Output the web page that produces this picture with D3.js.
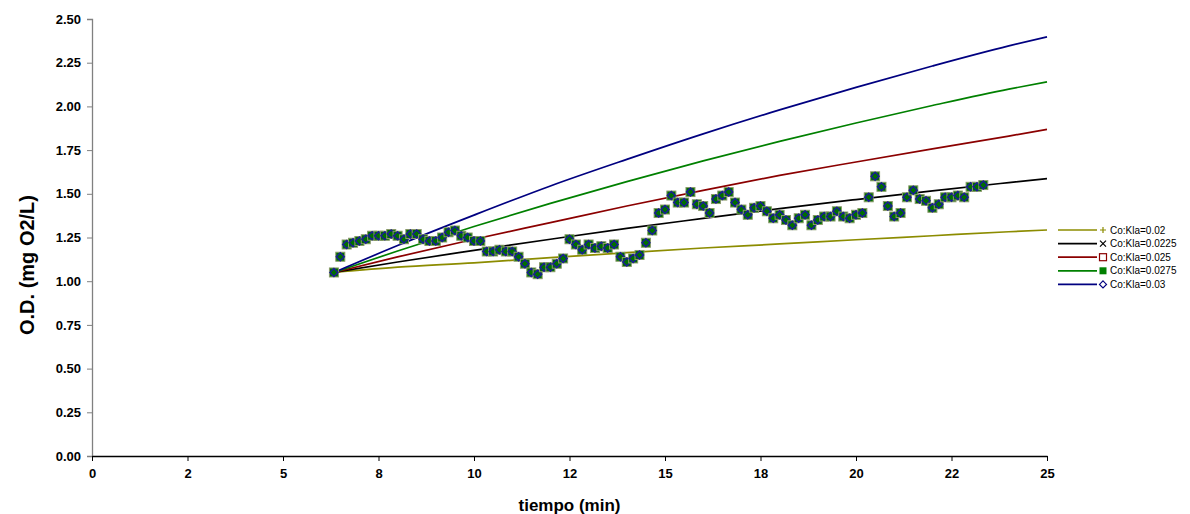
<!DOCTYPE html>
<html>
<head>
<meta charset="utf-8">
<script src="https://cdn.jsdelivr.net/npm/d3@7/dist/d3.min.js"></script>
<style>
  html, body { margin: 0; padding: 0; background: #fff; }
  svg { display: block; font-family: "Liberation Sans", Arial, sans-serif; }
</style>
</head>
<body>
<svg id="chart" width="1190" height="514"></svg>
<script>
// Measured dissolved oxygen (every 10 s)
const obsSeconds = [
  380,390,400,410,420,430,440,450,460,470,
  480,490,500,510,520,530,540,550,560,570,
  580,590,600,610,620,630,640,650,660,670,
  680,690,700,710,720,730,740,750,760,770,
  780,790,800,810,820,830,840,850,860,870,
  880,890,900,910,920,930,940,950,960,970,
  980,990,1000,1010,1020,1030,1040,1050,1060,1070,
  1080,1090,1100,1110,1120,1130,1140,1150,1160,1170,
  1180,1190,1200,1210,1220,1230,1240,1250,1260,1270,
  1280,1290,1300,1310,1320,1330,1340,1350,1360,1370,
  1380,1390,1400
];
const obsOD = [
  1.05,1.14,1.21,1.22,1.23,1.24,1.26,1.26,1.26,1.27,
  1.26,1.24,1.27,1.27,1.24,1.23,1.23,1.25,1.28,1.29,
  1.26,1.25,1.23,1.23,1.17,1.17,1.18,1.17,1.17,1.14,
  1.10,1.05,1.04,1.08,1.08,1.10,1.13,1.24,1.21,1.18,
  1.21,1.19,1.20,1.19,1.21,1.14,1.11,1.13,1.15,1.22,
  1.29,1.39,1.41,1.49,1.45,1.45,1.51,1.44,1.43,1.39,
  1.47,1.49,1.51,1.45,1.41,1.38,1.42,1.43,1.40,1.36,
  1.38,1.35,1.32,1.36,1.38,1.32,1.35,1.37,1.37,1.40,
  1.37,1.36,1.38,1.39,1.48,1.60,1.54,1.43,1.37,1.39,
  1.48,1.52,1.47,1.46,1.42,1.44,1.48,1.48,1.49,1.48,
  1.54,1.54,1.55
];

// Model curves, one per Co:Kla value
const modelSeconds = [380, 480, 600, 720, 840, 960, 1080, 1200, 1320, 1440, 1500];
const od002   = [1.05, 1.080, 1.105, 1.135, 1.163, 1.190, 1.213, 1.237, 1.260, 1.283, 1.293];
const od00225 = [1.05, 1.110, 1.176, 1.240, 1.302, 1.359, 1.415, 1.467, 1.517, 1.564, 1.587];
const od0025  = [1.05, 1.139, 1.240, 1.335, 1.430, 1.520, 1.605, 1.682, 1.757, 1.830, 1.869];
const od00275 = [1.05, 1.173, 1.313, 1.445, 1.570, 1.688, 1.800, 1.905, 2.005, 2.099, 2.140];
const od003   = [1.05, 1.204, 1.378, 1.545, 1.697, 1.843, 1.980, 2.109, 2.231, 2.346, 2.398];

const seriesNames = ["Co:Kla=0.02", "Co:Kla=0.0225", "Co:Kla=0.025", "Co:Kla=0.0275", "Co:Kla=0.03"];
const seriesValues = [od002, od00225, od0025, od00275, od003];
const seriesColors = ["#8c8c00", "#000000", "#8b0000", "#008000", "#000080"];
const seriesMarkers = ["plus", "cross", "square", "filledSquare", "diamond"];

const xTickValues = [0, 2.5, 5, 7.5, 10, 12.5, 15, 17.5, 20, 22.5, 25];
const xTickLabels = ["0", "2", "5", "8", "10", "12", "15", "18", "20", "22", "25"];
const yTickValues = [0, 0.25, 0.5, 0.75, 1, 1.25, 1.5, 1.75, 2, 2.25, 2.5];

const svg = d3.select("#chart");
const x = d3.scaleLinear().domain([0, 25]).range([92, 1047]);
const y = d3.scaleLinear().domain([0, 2.5]).range([456, 19]);
const toMin = s => s / 60;

// Y axis
const yAxis = svg.append("g")
  .attr("transform", `translate(${x(0)},0)`)
  .call(d3.axisLeft(y).tickValues(yTickValues).tickFormat(d3.format(".2f")).tickSize(5).tickPadding(6));
yAxis.select(".domain").attr("stroke", "#808080").attr("stroke-width", 1.3);
yAxis.selectAll(".tick line").attr("stroke", "#808080");
yAxis.selectAll(".tick text")
  .attr("font-family", "'Liberation Sans', Arial, sans-serif")
  .attr("font-weight", "bold").attr("font-size", 13).attr("fill", "#000");

// X axis
const xAxis = svg.append("g")
  .attr("transform", `translate(0,${y(0)})`)
  .call(d3.axisBottom(x).tickValues(xTickValues)
    .tickFormat((d, i) => xTickLabels[i]).tickSize(5).tickSizeOuter(0).tickPadding(8));
xAxis.select(".domain").attr("stroke", "#000").attr("stroke-width", 1.3);
xAxis.selectAll(".tick line").attr("stroke", "#000");
xAxis.selectAll(".tick text")
  .attr("font-family", "'Liberation Sans', Arial, sans-serif")
  .attr("font-weight", "bold").attr("font-size", 13).attr("fill", "#000");

// Axis titles
svg.append("text")
  .attr("x", x(12.5)).attr("y", 511)
  .attr("text-anchor", "middle")
  .attr("font-weight", "bold").attr("font-size", 17)
  .text("tiempo (min)");
svg.append("text")
  .attr("transform", "translate(34,265) rotate(-90)")
  .attr("text-anchor", "middle")
  .attr("font-weight", "bold").attr("font-size", 20)
  .text("O.D. (mg O2/L)");

// Model lines
const line = d3.line()
  .x((d, i) => x(toMin(modelSeconds[i])))
  .y(d => y(d))
  .curve(d3.curveMonotoneX);
seriesValues.forEach((vals, k) => {
  svg.append("path")
    .datum(vals)
    .attr("d", line)
    .attr("fill", "none")
    .attr("stroke", seriesColors[k])
    .attr("stroke-width", 1.7);
});

// Measured points: filled green square with the blue diamond drawn over it
const pts = svg.append("g");
obsOD.forEach((v, i) => {
  const cx = x(toMin(obsSeconds[i])), cy = y(v);
  pts.append("rect")
    .attr("x", cx - 4.5).attr("y", cy - 4.5)
    .attr("width", 9).attr("height", 9)
    .attr("fill", "#006f00")
    .attr("stroke", "#8a9a6a").attr("stroke-width", 1);
  pts.append("path")
    .attr("d", `M${cx},${cy - 4}L${cx + 4},${cy}L${cx},${cy + 4}L${cx - 4},${cy}Z`)
    .attr("fill", "none")
    .attr("stroke", "#1a1a9a").attr("stroke-width", 1.4);
});

// Legend
const legend = svg.append("g").attr("transform", "translate(1058,230)");
const rowH = 13.6;
function drawMarker(g, type, color, cx, cy) {
  if (type === "plus") {
    g.append("path").attr("d", `M${cx - 3},${cy}H${cx + 3}M${cx},${cy - 3}V${cy + 3}`)
      .attr("stroke", color).attr("stroke-width", 1.2);
  } else if (type === "cross") {
    g.append("path").attr("d", `M${cx - 3},${cy - 3}L${cx + 3},${cy + 3}M${cx - 3},${cy + 3}L${cx + 3},${cy - 3}`)
      .attr("stroke", color).attr("stroke-width", 1.2);
  } else if (type === "square") {
    g.append("rect").attr("x", cx - 3.5).attr("y", cy - 3.5).attr("width", 7).attr("height", 7)
      .attr("fill", "none").attr("stroke", color).attr("stroke-width", 1.2);
  } else if (type === "filledSquare") {
    g.append("rect").attr("x", cx - 3.5).attr("y", cy - 3.5).attr("width", 7).attr("height", 7)
      .attr("fill", color);
  } else {
    g.append("path").attr("d", `M${cx},${cy - 3.5}L${cx + 3.5},${cy}L${cx},${cy + 3.5}L${cx - 3.5},${cy}Z`)
      .attr("fill", "none").attr("stroke", color).attr("stroke-width", 1.2);
  }
}
seriesNames.forEach((name, k) => {
  const g = legend.append("g").attr("transform", `translate(0,${k * rowH})`);
  g.append("line").attr("x1", 0).attr("x2", 39).attr("y1", 0).attr("y2", 0)
    .attr("stroke", seriesColors[k]).attr("stroke-width", 1.7);
  drawMarker(g, seriesMarkers[k], seriesColors[k], 45, 0);
  g.append("text").attr("x", 52).attr("y", 3.5)
    .attr("font-size", 10).attr("fill", "#000")
    .text(name);
});
</script>
</body>
</html>
